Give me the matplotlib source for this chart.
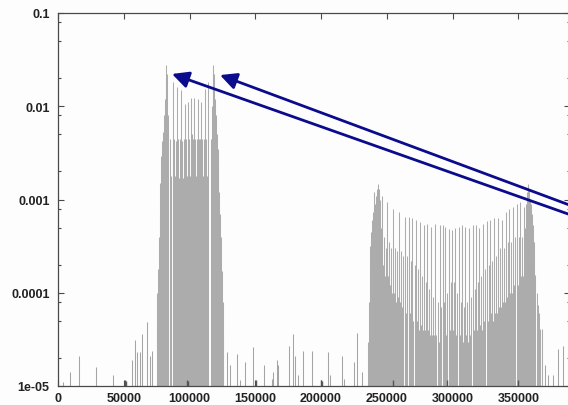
import matplotlib
matplotlib.use("Agg")
import matplotlib.pyplot as plt
from matplotlib.ticker import FixedLocator, FuncFormatter, NullFormatter

# ---------------- data (frequency in Hz, level) ----------------
# Band 1 (approx. 75 kHz - 126 kHz)
c1_freq = [74900, 75500, 76200, 76800, 77200, 77900, 78500, 79100, 79800, 80600,
           81300, 81800, 82300, 83000, 83600, 85500, 86200, 87100, 87900, 88700,
           89400, 90300, 91100, 91800, 92500, 93300, 94100, 94800, 95500, 96300,
           97000, 97800, 98600, 99400, 100100, 100800, 101600, 102300, 102900, 103600,
           104300, 105000, 105600, 106300, 107100, 107700, 108300, 109000, 109800, 110500,
           111100, 111800, 112500, 113300, 114000, 116000, 116800, 117500, 118200, 118800,
           119400, 120100, 120700, 121300, 122000, 122600, 123300, 123900, 124600, 125200,
           125800]
c1_level = [4.3e-5, 1.0e-4, 1.8e-4, 4e-4, 7e-4, 1.5e-3, 2.9e-3, 4.2e-3, 5.3e-3, 8e-3,
            1.2e-2, 2.0e-2, 2.8e-2, 2.2e-2, 8e-3, 4.5e-3, 1.8e-3, 1.8e-2, 4.5e-3, 1.8e-3,
            4.2e-3, 1.6e-2, 4.5e-3, 1.7e-3, 4.5e-3, 1.5e-2, 4.2e-3, 1.7e-3, 4.5e-3, 1.05e-2,
            4.5e-3, 1.8e-3, 1.12e-2, 4.5e-3, 1.8e-3, 1.22e-2, 5e-3, 1.8e-3, 4.5e-3, 1.22e-2,
            4.5e-3, 1.8e-3, 4.5e-3, 1.2e-2, 4.5e-3, 1.8e-3, 4.5e-3, 1.1e-2, 4.5e-3, 1.8e-3,
            4.5e-3, 1.55e-2, 4.5e-3, 1.8e-3, 1.8e-2, 4.5e-3, 1.0e-2, 2.0e-2, 2.8e-2, 2.2e-2,
            1.2e-2, 8e-3, 5e-3, 3.5e-3, 2.1e-3, 1.2e-3, 7e-4, 4e-4, 1.7e-4, 8e-5,
            3.5e-5]

# Band 2 (approx. 235 kHz - 368 kHz): main comb and edges
c2_freq = [235500, 236100, 236900, 237600, 238300, 239000, 239600, 240300, 241000, 241800,
           242500, 243300, 244100, 244800, 245600, 246600, 250400, 254900, 259500, 263800,
           266600, 269400, 272200, 275200, 278300, 280800, 283800, 286900, 290400, 292500,
           294500, 297000, 299600, 302100, 304700, 307200, 309700, 312700, 315300, 317800,
           320300, 323400, 325900, 328400, 331500, 334500, 337600, 340600, 343100, 346200,
           348700, 351300, 354300, 357600, 358300, 359000, 359600, 360200, 360800, 361600,
           362300, 363000, 363900, 364700, 365600, 366500, 367800]
c2_level = [3.0e-5, 8e-5, 2.0e-4, 3.2e-4, 4.5e-4, 6e-4, 7.4e-4, 1.2e-3, 9e-4, 1.1e-3,
            1.3e-3, 1.48e-3, 1.3e-3, 1.0e-3, 5e-4, 1.1e-3, 9.4e-4, 8.0e-4, 7.3e-4, 6.5e-4,
            6.5e-4, 6.3e-4, 6.0e-4, 5.8e-4, 5.3e-4, 5.5e-4, 5.1e-4, 5.5e-4, 5.3e-4, 5.3e-4,
            5.1e-4, 4.8e-4, 4.7e-4, 4.9e-4, 5.1e-4, 5.3e-4, 5.1e-4, 4.9e-4, 5.3e-4, 5.3e-4,
            4.9e-4, 5.5e-4, 5.9e-4, 6.0e-4, 6.3e-4, 6.4e-4, 6.0e-4, 7.3e-4, 8.0e-4, 8.4e-4,
            9.0e-4, 9.4e-4, 8.4e-4, 1.48e-3, 1.3e-3, 1.0e-3, 9e-4, 7e-4, 5.3e-4, 3.5e-4,
            2.2e-4, 1.55e-4, 1.0e-4, 7.4e-5, 6e-5, 4.1e-5, 4.1e-5]

# Band 2: lower lines between the comb
c2_fill_freq = [247300, 248100, 248800, 249600, 251100, 251900, 252700, 253400, 254200, 255700,
                256500, 257200, 258000, 258700, 260300, 261000, 261800, 262700, 264600, 265500,
                267400, 268400, 270100, 271100, 273000, 273900, 274500, 276000, 276900, 277600,
                279000, 279900, 281500, 282400, 283100, 284600, 285400, 286200, 287600, 288600,
                289500, 291400, 293500, 295200, 296100, 297800, 298700, 300300, 301200, 302800,
                303700, 305400, 306300, 307900, 308800, 310400, 311300, 312000, 313500, 314400,
                316100, 317000, 318600, 319500, 321100, 321900, 322700, 324100, 325000, 326700,
                327600, 329200, 330100, 330800, 332300, 333100, 333900, 335300, 336100, 336900,
                338300, 339200, 339900, 341400, 342300, 343900, 344700, 345500, 346900, 347800,
                349500, 350400, 352000, 352900, 353600, 355100, 356000, 356800]
c2_fill_level = [2e-4, 4e-4, 1.5e-4, 3e-4, 1.5e-4, 3.5e-4, 1.2e-4, 3e-4, 1e-4, 1e-4,
                 3e-4, 8e-5, 2.8e-4, 9e-5, 8e-5, 2.8e-4, 7e-5, 2.5e-4, 6e-5, 2.5e-4,
                 6e-5, 2.2e-4, 5e-5, 2e-4, 5e-5, 1.8e-4, 4e-5, 4.5e-5, 1.5e-4, 4e-5,
                 4e-5, 1.3e-4, 4e-5, 1.1e-4, 3.5e-5, 3.5e-5, 9e-5, 3.5e-5, 3.5e-5, 8e-5,
                 3e-5, 7e-5, 8e-5, 3.5e-5, 1e-4, 4e-5, 1.3e-4, 4e-5, 1.3e-4, 3.5e-5,
                 1.0e-4, 3.5e-5, 8e-5, 3e-5, 7e-5, 3.5e-5, 8e-5, 3e-5, 3.5e-5, 9e-5,
                 4e-5, 1.1e-4, 4e-5, 1.3e-4, 4.5e-5, 1.5e-4, 4e-5, 5e-5, 1.8e-4, 5e-5,
                 2e-4, 6e-5, 2.2e-4, 5e-5, 6e-5, 2.5e-4, 6e-5, 7e-5, 3e-4, 7e-5,
                 8e-5, 3e-4, 8e-5, 9e-5, 3.5e-4, 1e-4, 3.5e-4, 1e-4, 1.2e-4, 4e-4,
                 1.2e-4, 4e-4, 1.5e-4, 4e-4, 1.5e-4, 5e-4, 9e-4, 1.2e-3]

# Isolated low-level spurs
spur_freq = [4100, 9500, 16200, 29100, 42000, 56600, 58500, 60300, 62300, 63500,
             67400, 69900, 71200, 128300, 130800, 135900, 138400, 142200, 148500, 156500,
             162500, 163800, 166300, 167500, 175900, 178900, 180200, 182500, 186500, 192900,
             205500, 206800, 215700, 217400, 225000, 227100, 231400, 370500, 372500, 376000,
             380200, 384300]
spur_level = [1.1e-5, 1.4e-5, 2.1e-5, 1.6e-5, 1.3e-5, 1.9e-5, 3.1e-5, 2.3e-5, 2.3e-5, 3.6e-5,
              4.9e-5, 2.1e-5, 2.4e-5, 2.3e-5, 1.7e-5, 2.2e-5, 1.15e-5, 1.8e-5, 2.6e-5, 1.7e-5,
              1.2e-5, 1.4e-5, 1.9e-5, 1.7e-5, 2.7e-5, 3.6e-5, 2.1e-5, 1.3e-5, 2.4e-5, 2.4e-5,
              2.3e-5, 1.3e-5, 2.1e-5, 1.2e-5, 1.8e-5, 3.7e-5, 1.4e-5, 1.7e-5, 1.3e-5, 1.3e-5,
              2.5e-5, 2.7e-5]

# Short dark marks sitting on the floor
dark_freq = [50600, 51900, 150500, 200000, 201000, 98000, 99000, 255000, 296000, 350000]
dark_level = [1.15e-5, 1.12e-5, 1.15e-5, 1.15e-5, 1.12e-5, 1.15e-5, 1.12e-5, 1.15e-5, 1.15e-5, 1.15e-5]

# Annotated peaks (arrow targets) and where the arrows come from
peak_freq = [86700, 123200]
peak_level = [0.0222, 0.0216]
arrow_tail_freq = [412000, 412000]
arrow_tail_level = [5.3e-4, 6.6e-4]

x_ticks = [0, 50000, 100000, 150000, 200000, 250000, 300000, 350000]
y_ticks = [1e-5, 1e-4, 1e-3, 1e-2, 1e-1]

# ---------------- figure ----------------
W, H = 568, 406
fig = plt.figure(figsize=(W / 100, H / 100), dpi=100)
fig.patch.set_facecolor("#fdfdfd")
ax = fig.add_axes([58 / W, (H - 387) / H, (570 - 58) / W, (387 - 14) / H])
ax.set_facecolor("#fdfdfd")

ax.set_yscale("log")
ax.set_xlim(0, 389300)
ax.set_ylim(1e-5, 0.1)

floor = 1e-5
lc = "#acacac"
lw = 0.75
ax.vlines(spur_freq, floor, spur_level, colors="#a4a4a4", linewidth=lw)
ax.vlines(c1_freq, floor, c1_level, colors=lc, linewidth=lw)
ax.vlines(c2_fill_freq, floor, c2_fill_level, colors=lc, linewidth=lw)
ax.vlines(c2_freq, floor, c2_level, colors=lc, linewidth=lw)
ax.vlines(dark_freq, floor, dark_level, colors="#555555", linewidth=1.0)

# arrows
for xt, yt, xs, ys in zip(peak_freq, peak_level, arrow_tail_freq, arrow_tail_level):
    ax.annotate("", xy=(xt, yt), xytext=(xs, ys),
                arrowprops=dict(arrowstyle="-|>,head_length=0.5,head_width=0.25",
                                color="#0b0b8e", lw=2.0, mutation_scale=20,
                                shrinkA=0, shrinkB=0),
                annotation_clip=False)

# ticks
ax.xaxis.set_major_locator(FixedLocator(x_ticks))
ax.xaxis.set_major_formatter(FuncFormatter(lambda v, p: "%d" % v))
ax.yaxis.set_major_locator(FixedLocator(y_ticks))
ax.yaxis.set_major_formatter(FuncFormatter(lambda v, p: "%g" % v))
minor = []
for d in [1e-5, 1e-4, 1e-3, 1e-2]:
    for m in (2, 5, 8):
        minor.append(d * m)
ax.yaxis.set_minor_locator(FixedLocator(minor))
ax.yaxis.set_minor_formatter(NullFormatter())

axis_col = "#4a4a4a"
ax.tick_params(axis="both", which="major", direction="in", length=4, width=0.8,
               color=axis_col, top=True, right=True, labelsize=9, labelcolor="#222222")
ax.tick_params(axis="y", which="major", pad=6)
ax.tick_params(axis="x", which="major", pad=4)
ax.tick_params(axis="y", which="minor", direction="in", length=2.5, width=0.8,
               color=axis_col, right=True)
for lab in ax.get_xticklabels() + ax.get_yticklabels():
    lab.set_fontfamily("Liberation Sans")
    lab.set_fontweight("bold")
for s in ax.spines.values():
    s.set_color(axis_col)
    s.set_linewidth(0.9)

fig.savefig("out.png", dpi=100, facecolor=fig.get_facecolor())
